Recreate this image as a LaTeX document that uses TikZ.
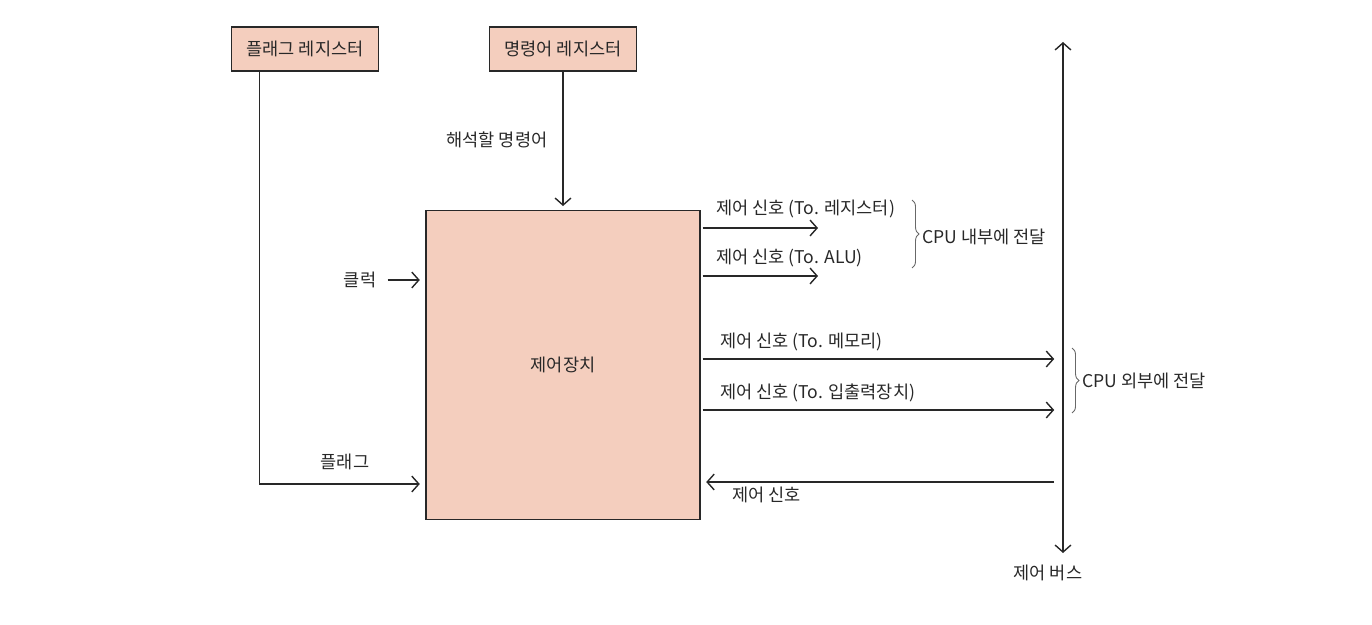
\documentclass[tikz,border=0pt]{standalone}
\usepackage{fontspec}
\setmainfont{Noto Sans CJK KR}
\usetikzlibrary{
  arrows.meta,
  positioning,
  calc,
  decorations.pathreplacing
}
\definecolor{reg}{RGB}{244,206,190}
\definecolor{ink}{RGB}{40,40,40}

\begin{document}
\begin{tikzpicture}[
  x=0.02cm, y=-0.02cm,
  every node/.style={font=\fontsize{10}{12}\selectfont, text=ink},
  regbox/.style={draw=ink, line width=1.1pt, fill=reg, minimum width=147*0.02cm,
                 minimum height=44*0.02cm},
  wire/.style={draw=ink, line width=0.8pt},
  sig/.style={anchor=west, inner sep=1pt},
  brc/.style={draw=ink!70, line width=0.5pt, decorate,
              decoration={brace, amplitude=4pt}},
  >={Straight Barb[length=4pt, width=9pt]}
]
\useasboundingbox (0,0) rectangle (1372,625);

% Registers and control unit
\node[regbox] (flagreg) at (305,49) {플래그 레지스터};
\node[regbox] (instreg) at (563,49) {명령어 레지스터};
\node[draw=ink, line width=1.1pt, fill=reg, minimum width=274*0.02cm,
      minimum height=309*0.02cm] (cu) at (563,365) {제어장치};

% Control bus
\coordinate (bustop) at (1063,42);
\coordinate (busbot) at (1063,553);
\draw[wire, <->] (bustop) -- (busbot);
\node (buslbl) at (1048,573) {제어 버스};

% Inputs
\draw[wire, ->] ([xshift=29*0.02cm]flagreg.south west) |- ([xshift=-3pt]cu.west |- 0,484);
\node (flaglbl) at (345,462) {플래그};

\draw[wire, ->] (instreg.south) -- ([yshift=2pt]cu.north);
\node (instlbl) at (497,140) {해석할 명령어};

\node (clk) at (360,280) {클럭};
\draw[wire, ->] ([xshift=3pt]clk.east) -- ([xshift=-3pt]cu.west |- clk);

% Control signals inside the CPU
\draw[wire, ->] ([xshift=1pt]cu.east |- 0,228) -- (818,228);
\draw[wire, ->] ([xshift=1pt]cu.east |- 0,276) -- (818,276);
\node[sig] (toreg) at (714,209) {제어 신호 (To. 레지스터)};
\node[sig] (toalu) at (714,258) {제어 신호 (To. ALU)};
\draw[brc] (912,200) -- (912,268);
\node[sig] (inner) at (920,237) {CPU 내부에 전달};

% Control signals outside the CPU
\draw[wire, ->] ([xshift=1pt]cu.east |- 0,359) -- ([xshift=-5pt]bustop |- 0,359);
\draw[wire, ->] ([xshift=1pt]cu.east |- 0,410) -- ([xshift=-5pt]bustop |- 0,410);
\node[sig] (tomem) at (718,342) {제어 신호 (To. 메모리)};
\node[sig] (toio) at (718,393) {제어 신호 (To. 입출력장치)};
\draw[brc] (1072,348) -- (1072,413);
\node[sig] (outer) at (1080,381) {CPU 외부에 전달};

% Signal from the bus
\draw[wire, ->] ([xshift=-5pt]bustop |- 0,482) -- ([xshift=3pt]cu.east |- 0,482);
\node[sig] (frombus) at (730,495) {제어 신호};

\end{tikzpicture}
\end{document}
